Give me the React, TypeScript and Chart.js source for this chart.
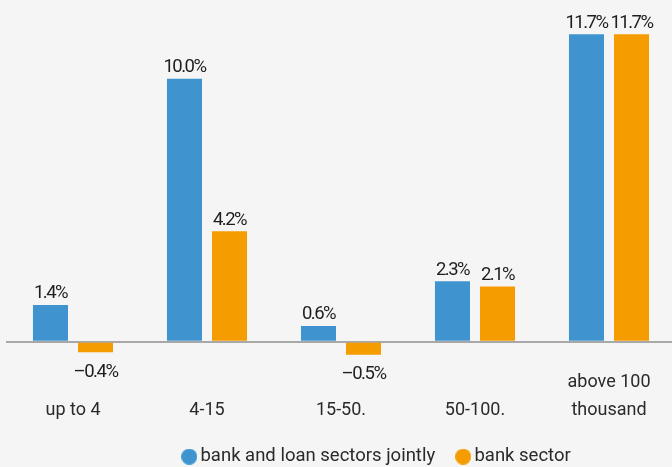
import React, { useEffect, useRef } from "react";
import { Chart, registerables } from "chart.js";

Chart.register(...registerables);

const categories: (string | string[])[] = ["up to 4", "4-15", "15-50.", "50-100.", ["above 100", "thousand"]];
const seriesNames = ["bank and loan sectors jointly", "bank sector"];
const jointly = [1.4, 10.0, 0.6, 2.3, 11.7];
const bankSector = [-0.4, 4.2, -0.5, 2.1, 11.7];
const colors = ["#3f94cf", "#f59c00"];

const FONT = "Roboto, 'DejaVu Sans', sans-serif";
const LEGEND_SHIFT = 38;

function circleImage(color: string, d: number) {
  const c = document.createElement("canvas");
  c.width = d;
  c.height = d;
  const g = c.getContext("2d")!;
  g.fillStyle = color;
  g.beginPath();
  g.arc(d / 2, d / 2, d / 2, 0, Math.PI * 2);
  g.fill();
  return c;
}

const legendOffset = {
  id: "legendOffset",
  afterLayout(chart: any) {
    const lg = chart.legend;
    if (lg) {
      lg.left += LEGEND_SHIFT;
      lg.right += LEGEND_SHIFT;
    }
  },
};

const valueLabels = {
  id: "valueLabels",
  afterDatasetsDraw(chart: any) {
    const ctx = chart.ctx;
    ctx.save();
    ctx.font = `18.5px ${FONT}`;
    try { (ctx as any).letterSpacing = "-1.5px"; } catch (e) {}
    ctx.fillStyle = "#1e1e1e";
    ctx.textAlign = "center";
    ctx.textBaseline = "alphabetic";
    chart.data.datasets.forEach((ds: any, di: number) => {
      const meta = chart.getDatasetMeta(di);
      meta.data.forEach((bar: any, i: number) => {
        const v = ds.data[i] as number;
        const txt = (v < 0 ? "\u2013" : "") + Math.abs(v).toFixed(1) + "%";
        if (v >= 0) {
          ctx.fillText(txt, bar.x, bar.y - 6.5);
        } else {
          ctx.fillText(txt, bar.x, bar.y + 24.5);
        }
      });
    });
    ctx.restore();
  },
};

export default function App() {
  const ref = useRef<HTMLCanvasElement | null>(null);
  useEffect(() => {
    if (!ref.current) return;
    const markers = colors.map((c) => circleImage(c, 16));
    const chart = new Chart(ref.current, {
      type: "bar",
      data: {
        labels: categories,
        datasets: [
          { label: seriesNames[0], data: jointly, backgroundColor: colors[0], borderWidth: 0, categoryPercentage: 0.672, barPercentage: 0.778 },
          { label: seriesNames[1], data: bankSector, backgroundColor: colors[1], borderWidth: 0, categoryPercentage: 0.672, barPercentage: 0.778 },
        ],
      },
      options: {
        responsive: false,
        animation: false,
        layout: { padding: { left: 6, right: 0, top: 0, bottom: -9 } },
        plugins: {
          legend: {
            position: "bottom",
            labels: {
              usePointStyle: true,
              boxHeight: 4,
              boxWidth: 4,
              padding: 26,
              color: "#2a2a2a",
              font: { family: FONT, size: 18.5 },
              generateLabels: (ch: any) => {
                const items = Chart.defaults.plugins.legend.labels.generateLabels(ch);
                items.forEach((it: any, i: number) => { it.pointStyle = markers[i]; });
                return items;
              },
            },
          },
          tooltip: { enabled: false },
        },
        scales: {
          x: {
            grid: { display: false, drawTicks: false },
            border: { display: false },
            ticks: {
              color: "#2a2a2a",
              font: { family: FONT, size: 18, lineHeight: 28 / 18 },
              crossAlign: "far",
              padding: 14,
              maxRotation: 0,
              autoSkip: false,
            },
            afterFit: (s: any) => { s.height = 53.5; },
          },
          y: {
            min: -1,
            max: 13,
            ticks: { display: false, stepSize: 1 },
            border: { display: false },
            grid: {
              drawTicks: false,
              lineWidth: 2,
              color: (c: any) => (c.tick && c.tick.value === 0 ? "#a8a8a8" : "rgba(0,0,0,0)"),
            },
            afterFit: (s: any) => { s.width = 0; },
          },
        },
      },
      plugins: [valueLabels, legendOffset],
    });
    return () => chart.destroy();
  }, []);
  return (
    <div style={{ position: "fixed", left: 0, top: 0, width: 672, height: 467, overflow: "hidden", background: "#f5f5f5" }}>
      <canvas ref={ref} width={676} height={467} style={{ display: "block" }} />
    </div>
  );
}
